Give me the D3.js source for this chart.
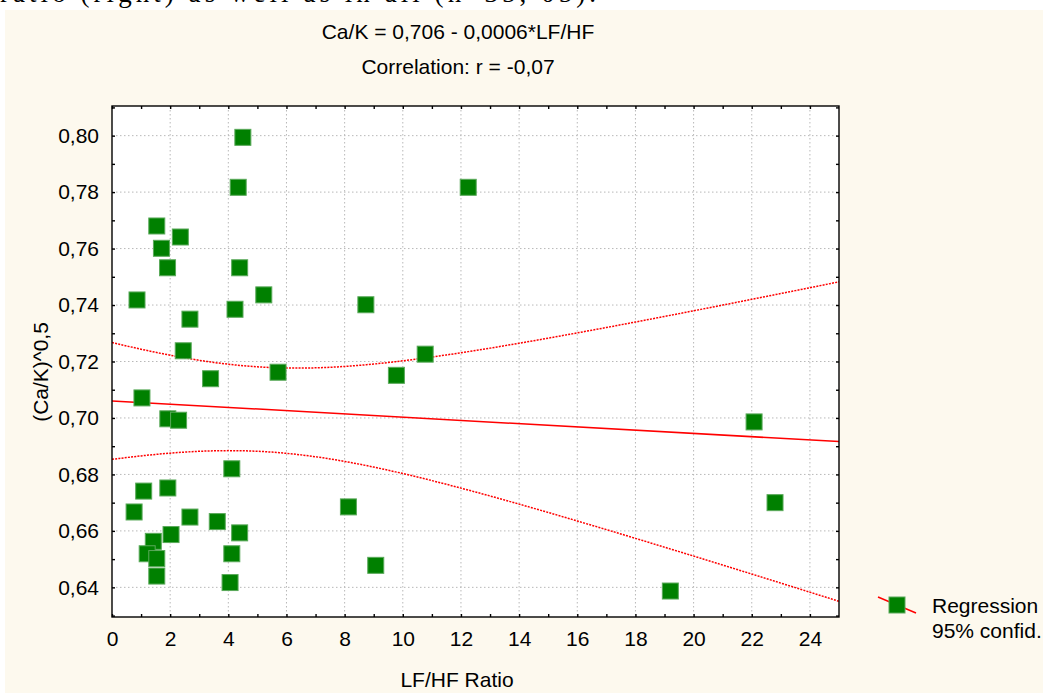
<!DOCTYPE html>
<html>
<head>
<meta charset="utf-8">
<script src="https://cdn.jsdelivr.net/npm/d3@7"></script>
<style>
body { margin: 0; background: #fff; }
svg { display: block; font-family: Arial, "Liberation Sans", sans-serif; }
</style>
</head>
<body>
<svg id="chart" width="1043" height="698"></svg>
<script>
// LF/HF ratio (x) and (Ca/K)^0,5 (y)
var lfhfRatio = [4.50, 4.34, 12.25, 1.54, 2.35, 1.70, 1.91, 4.39, 5.22, 0.86,
                 8.73, 4.23, 2.68, 2.45, 10.77, 5.71, 9.78, 3.39, 1.03, 1.92,
                 2.29, 22.08, 4.12, 1.92, 1.09, 22.80, 8.13, 0.76, 2.68, 3.62,
                 4.39, 2.03, 1.42, 1.21, 4.12, 1.54, 9.07, 1.54, 4.06, 19.20];
var caKRoot = [0.7994, 0.7817, 0.7817, 0.7680, 0.7641, 0.7601, 0.7532, 0.7532, 0.7436, 0.7418,
               0.7401, 0.7385, 0.7350, 0.7238, 0.7226, 0.7162, 0.7151, 0.7139, 0.7071, 0.6997,
               0.6992, 0.6986, 0.6820, 0.6752, 0.6741, 0.6700, 0.6685, 0.6667, 0.6649, 0.6633,
               0.6593, 0.6587, 0.6563, 0.6519, 0.6519, 0.6502, 0.6478, 0.6440, 0.6417, 0.6387];

var xTicks = [0, 2, 4, 6, 8, 10, 12, 14, 16, 18, 20, 22, 24];
var yTicks = [0.64, 0.66, 0.68, 0.70, 0.72, 0.74, 0.76, 0.78, 0.80];
var xMinor = [0, 1, 2, 3, 4, 5, 6, 7, 8, 9, 10, 11, 12, 13, 14, 15, 16, 17, 18, 19, 20, 21, 22, 23, 24];
var yMinor = [0.63, 0.64, 0.65, 0.66, 0.67, 0.68, 0.69, 0.70, 0.71, 0.72, 0.73, 0.74, 0.75, 0.76, 0.77, 0.78, 0.79, 0.80, 0.81];

var titleLines = ["Ca/K = 0,706 - 0,0006*LF/HF", "Correlation: r = -0,07"];
var legendLabels = ["Regression", "95% confid."];

var svg = d3.select("#chart");
var plotL = 112, plotR = 839, plotT = 106, plotB = 617;
var width = plotR - plotL, height = plotB - plotT;

var comma = d3.formatLocale({decimal: ",", thousands: ".", grouping: [3], currency: ["", ""]});
var fmtY = comma.format(".2f");

// cut off caption line of the page above
svg.append("text")
    .attr("x", 0).attr("y", 2)
    .attr("textLength", 596)
    .style("font-family", "'Liberation Serif', 'Times New Roman', serif")
    .style("font-size", "27px")
    .text("ratio (right) as well as in all (n=35, 05).");

svg.append("rect")
    .attr("x", 5).attr("y", 10)
    .attr("width", 1038).attr("height", 683)
    .attr("fill", "#fdf9ee");

var x = d3.scaleLinear().domain([0, 25]).range([0, width]);
var y = d3.scaleLinear().domain([0.6295, 0.8105]).range([height, 0]);

var g = svg.append("g").attr("transform", "translate(" + plotL + "," + plotT + ")");

g.append("rect")
    .attr("width", width).attr("height", height)
    .attr("fill", "#fff");

// dotted grid
g.append("g")
    .selectAll("line")
    .data(xTicks.filter(function(d) { return d > 0; }))
    .enter().append("line")
    .attr("x1", function(d) { return x(d); })
    .attr("x2", function(d) { return x(d); })
    .attr("y1", 0).attr("y2", height)
    .attr("stroke", "#b8b8b8")
    .attr("stroke-dasharray", "1.5,2.5");

g.append("g")
    .selectAll("line")
    .data(yTicks)
    .enter().append("line")
    .attr("x1", 0).attr("x2", width)
    .attr("y1", function(d) { return y(d); })
    .attr("y2", function(d) { return y(d); })
    .attr("stroke", "#b8b8b8")
    .attr("stroke-dasharray", "1.5,2.5");

// regression and 95% band computed from the points
var n = lfhfRatio.length;
var xm = d3.mean(lfhfRatio), ym = d3.mean(caKRoot);
var sxx = 0, sxy = 0, syy = 0;
for (var i = 0; i < n; i++) {
    sxx += (lfhfRatio[i] - xm) * (lfhfRatio[i] - xm);
    sxy += (lfhfRatio[i] - xm) * (caKRoot[i] - ym);
    syy += (caKRoot[i] - ym) * (caKRoot[i] - ym);
}
var slope = sxy / sxx;
var icpt = ym - slope * xm;
var se = Math.sqrt((syy - slope * sxy) / (n - 2));
var tCrit = 2.024;

var xs = [];
for (var k = 0; k <= 100; k++) xs.push(25 * k / 100);

function band(sign) {
    return xs.map(function(v) {
        var h = tCrit * se * Math.sqrt(1 / n + (v - xm) * (v - xm) / sxx);
        return [v, icpt + slope * v + sign * h];
    });
}

g.append("clipPath").attr("id", "plotclip")
    .append("rect").attr("width", width).attr("height", height);

var line = d3.line()
    .x(function(d) { return x(d[0]); })
    .y(function(d) { return y(d[1]); });

var fitG = g.append("g").attr("clip-path", "url(#plotclip)");

fitG.append("path")
    .datum([[0, icpt], [25, icpt + slope * 25]])
    .attr("d", line)
    .attr("fill", "none")
    .attr("stroke", "#ff0000")
    .attr("stroke-width", 1.5);

[-1, 1].forEach(function(s) {
    fitG.append("path")
        .datum(band(s))
        .attr("d", line)
        .attr("fill", "none")
        .attr("stroke", "#ff0000")
        .attr("stroke-width", 1.5)
        .attr("stroke-dasharray", "2,1.2");
});

// points
var sq = 16;
g.append("g")
    .selectAll("rect")
    .data(d3.range(n))
    .enter().append("rect")
    .attr("x", function(i) { return x(lfhfRatio[i]) - sq / 2; })
    .attr("y", function(i) { return y(caKRoot[i]) - sq / 2; })
    .attr("width", sq).attr("height", sq)
    .attr("fill", "#008000")
    .attr("stroke", "#5aa95a")
    .attr("stroke-width", 1);

// inward ticks on all four sides
function noLabel() { return ""; }
g.append("g").attr("transform", "translate(0," + height + ")")
    .call(d3.axisBottom(x).tickValues(xMinor).tickSize(-3).tickFormat(noLabel));
g.append("g")
    .call(d3.axisTop(x).tickValues(xMinor).tickSize(-3).tickFormat(noLabel));
g.append("g")
    .call(d3.axisLeft(y).tickValues(yMinor).tickSize(-3).tickFormat(noLabel));
g.append("g").attr("transform", "translate(" + width + ",0)")
    .call(d3.axisRight(y).tickValues(yMinor).tickSize(-3).tickFormat(noLabel));
g.selectAll(".domain").remove();
g.selectAll(".tick line").attr("stroke", "#000").attr("stroke-width", 1.4);

// tick labels
var xLab = g.append("g").attr("transform", "translate(0," + height + ")")
    .call(d3.axisBottom(x).tickValues(xTicks).tickSize(0).tickPadding(14).tickFormat(d3.format("d")));
var yLab = g.append("g")
    .call(d3.axisLeft(y).tickValues(yTicks).tickSize(0).tickPadding(13).tickFormat(fmtY));
[xLab, yLab].forEach(function(a) {
    a.select(".domain").remove();
    a.selectAll("text").attr("fill", "#000").style("font-size", "21px")
        .style("font-family", "Arial, 'Liberation Sans', sans-serif");
});

g.append("rect")
    .attr("width", width).attr("height", height)
    .attr("fill", "none")
    .attr("stroke", "#000")
    .attr("stroke-width", 1.4);

// titles
svg.selectAll("text.title")
    .data(titleLines)
    .enter().append("text")
    .attr("class", "title")
    .attr("x", 458)
    .attr("y", function(d, i) { return 39 + i * 35; })
    .attr("text-anchor", "middle")
    .style("font-size", "21px")
    .text(function(d) { return d; });

svg.append("text")
    .attr("x", 457).attr("y", 687)
    .attr("text-anchor", "middle")
    .style("font-size", "21px")
    .text("LF/HF Ratio");

svg.append("text")
    .attr("transform", "translate(48,372) rotate(-90)")
    .attr("text-anchor", "middle")
    .style("font-size", "21px")
    .text("(Ca/K)^0,5");

// legend
var lg = svg.append("g").attr("transform", "translate(897,605)");
lg.append("line")
    .attr("x1", -19).attr("y1", -8).attr("x2", 19).attr("y2", 8)
    .attr("stroke", "#ff0000").attr("stroke-width", 1.5);
lg.append("rect")
    .attr("x", -sq / 2).attr("y", -sq / 2)
    .attr("width", sq).attr("height", sq)
    .attr("fill", "#008000")
    .attr("stroke", "#5aa95a");
lg.selectAll("text.leg")
    .data(legendLabels)
    .enter().append("text")
    .attr("class", "leg")
    .attr("x", 35)
    .attr("y", function(d, i) { return 8 + i * 25; })
    .style("font-size", "21px")
    .text(function(d) { return d; });
</script>
</body>
</html>
